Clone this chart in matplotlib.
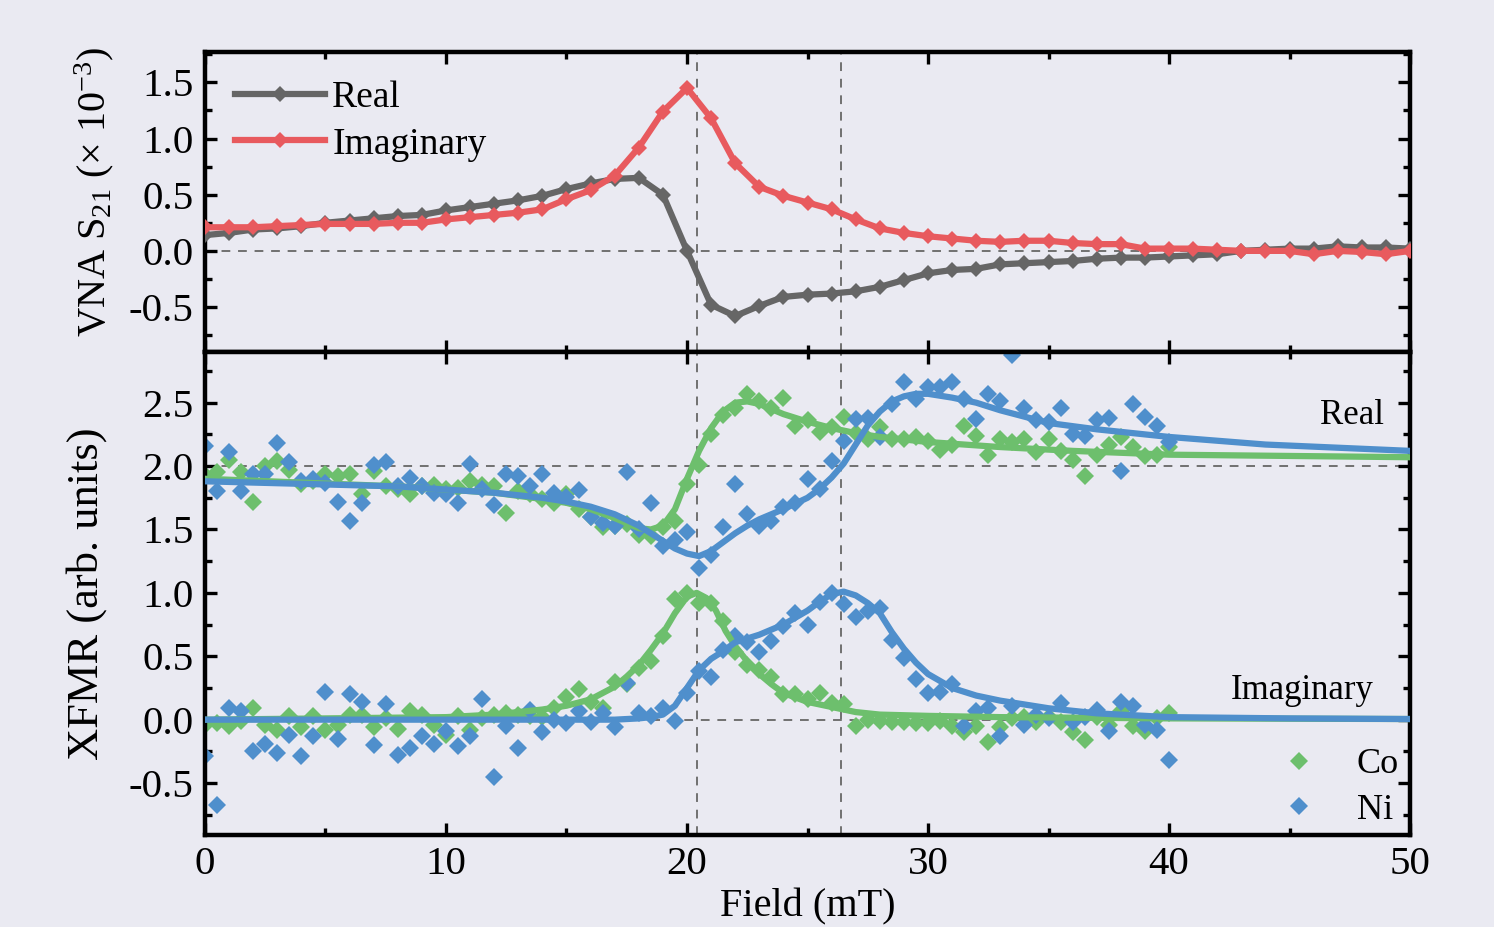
import numpy as np
import matplotlib.pyplot as plt
from matplotlib.ticker import MultipleLocator

plt.rcParams['font.family'] = ['Liberation Serif', 'DejaVu Serif']
plt.rcParams['mathtext.fontset'] = 'custom'
plt.rcParams['mathtext.rm'] = 'Liberation Serif'
plt.rcParams['mathtext.it'] = 'Liberation Serif:italic'

# ---- VNA data (top panel), one point per mT ----
vna_field = np.arange(0, 51)
vna_real = [0.14, 0.16, 0.19, 0.20, 0.22, 0.25, 0.27, 0.29, 0.31, 0.32,
            0.36, 0.39, 0.42, 0.45, 0.49, 0.55, 0.60, 0.64, 0.65, 0.50,
            0.00, -0.48, -0.58, -0.49, -0.41, -0.39, -0.38, -0.36, -0.32, -0.26,
            -0.20, -0.17, -0.16, -0.12, -0.11, -0.10, -0.09, -0.07, -0.06, -0.06,
            -0.05, -0.04, -0.03, 0.00, 0.01, 0.02, 0.02, 0.04, 0.03, 0.03, 0.02]
vna_imag = [0.21, 0.21, 0.21, 0.22, 0.23, 0.24, 0.24, 0.24, 0.25, 0.25,
            0.28, 0.30, 0.32, 0.34, 0.37, 0.46, 0.54, 0.67, 0.92, 1.24,
            1.45, 1.18, 0.78, 0.57, 0.49, 0.43, 0.37, 0.28, 0.20, 0.16,
            0.13, 0.11, 0.09, 0.08, 0.09, 0.09, 0.07, 0.06, 0.06, 0.02,
            0.02, 0.02, 0.01, 0.00, 0.00, 0.00, -0.03, 0.00, -0.01, -0.03, 0.00]

# ---- XFMR data (bottom panel), every 0.5 mT from 0 to 40 ----
xfmr_field = np.arange(0, 40.5, 0.5)
co_real = [1.93, 1.95, 2.05, 1.95, 1.72, 2.00, 2.04, 1.97, 1.86, 1.88,
           1.94, 1.92, 1.94, 1.78, 1.96, 1.84, 1.82, 1.78, 1.84, 1.85,
           1.82, 1.83, 1.88, 1.85, 1.84, 1.63, 1.80, 1.78, 1.74, 1.71,
           1.78, 1.66, 1.60, 1.52, 1.53, 1.54, 1.46, 1.45, 1.52, 1.57,
           1.86, 2.01, 2.25, 2.40, 2.46, 2.57, 2.51, 2.46, 2.54, 2.32,
           2.36, 2.27, 2.31, 2.39, 2.26, 2.21, 2.31, 2.21, 2.21, 2.23,
           2.20, 2.13, 2.17, 2.32, 2.24, 2.09, 2.21, 2.19, 2.21, 2.11,
           2.21, 2.12, 2.05, 1.92, 2.09, 2.17, 2.23, 2.15, 2.08, 2.09, 2.15]
ni_real = [2.16, 1.80, 2.11, 1.80, 1.94, 1.94, 2.18, 2.03, 1.88, 1.90,
           1.87, 1.72, 1.57, 1.71, 2.01, 2.03, 1.84, 1.91, 1.84, 1.79,
           1.78, 1.71, 2.02, 1.82, 1.69, 1.94, 1.92, 1.84, 1.94, 1.79,
           1.76, 1.81, 1.60, 1.55, 1.53, 1.95, 1.50, 1.71, 1.37, 1.42,
           1.48, 1.20, 1.30, 1.52, 1.86, 1.62, 1.53, 1.57, 1.68, 1.71,
           1.90, 1.82, 2.04, 2.20, 2.37, 2.38, 2.23, 2.49, 2.66, 2.53,
           2.62, 2.62, 2.66, 2.53, 2.37, 2.57, 2.51, 2.88, 2.46, 2.36,
           2.35, 2.46, 2.25, 2.24, 2.36, 2.38, 1.96, 2.49, 2.39, 2.32, 2.19]
co_imag = [-0.04, -0.03, -0.05, -0.01, 0.09, -0.04, -0.08, 0.03, -0.06, 0.03,
           -0.08, -0.04, 0.04, 0.04, -0.06, 0.01, -0.07, 0.07, 0.04, -0.04,
           -0.12, 0.03, -0.08, 0.01, 0.04, 0.05, 0.04, 0.03, 0.02, 0.09,
           0.18, 0.24, 0.14, 0.09, 0.30, 0.28, 0.41, 0.46, 0.66, 0.95,
           1.00, 0.92, 0.92, 0.78, 0.53, 0.43, 0.39, 0.34, 0.20, 0.20,
           0.16, 0.21, 0.13, 0.12, -0.05, 0.00, -0.01, -0.02, -0.02, -0.03,
           -0.03, -0.01, -0.05, -0.10, -0.05, -0.18, -0.06, 0.01, 0.02, -0.02,
           0.02, -0.02, -0.10, -0.16, 0.02, -0.04, 0.07, -0.05, -0.09, 0.01, 0.05]
ni_imag = [-0.29, -0.67, 0.09, 0.07, -0.25, -0.19, -0.26, -0.12, -0.29, -0.13,
           0.22, -0.15, 0.20, 0.14, -0.20, 0.12, -0.28, -0.22, -0.13, -0.19,
           -0.09, -0.21, -0.13, 0.16, -0.45, -0.05, -0.22, 0.08, -0.10, 0.00,
           -0.03, 0.07, -0.02, 0.05, -0.06, 0.29, 0.05, 0.03, 0.09, -0.01,
           0.21, 0.38, 0.34, 0.55, 0.66, 0.61, 0.53, 0.62, 0.74, 0.84,
           0.75, 0.93, 1.00, 0.91, 0.81, 0.86, 0.88, 0.63, 0.49, 0.32,
           0.21, 0.22, 0.28, -0.05, 0.07, 0.09, -0.13, 0.11, -0.04, 0.04,
           0.01, 0.13, -0.02, 0.02, 0.08, -0.09, 0.14, 0.11, -0.04, -0.08, -0.32]

# ---- fitted curves ----
co_re_fit_x = [0, 4, 8, 12, 14, 15, 16, 17, 17.5, 18, 18.5, 19, 19.5, 20, 20.5, 21,
               21.5, 22, 22.5, 23, 23.5, 24, 25, 26, 27, 28, 30, 33, 36, 40, 45, 50]
co_re_fit = [1.90, 1.87, 1.84, 1.79, 1.74, 1.71, 1.66, 1.59, 1.55, 1.51, 1.50, 1.53,
             1.66, 1.90, 2.12, 2.30, 2.43, 2.50, 2.51, 2.49, 2.45, 2.41, 2.35, 2.30,
             2.26, 2.23, 2.19, 2.15, 2.12, 2.09, 2.08, 2.07]
ni_re_fit_x = [0, 4, 8, 12, 14, 15, 16, 17, 18, 18.5, 19, 19.5, 20, 20.5, 21, 21.5,
               22, 22.5, 23, 24, 25, 25.5, 26, 26.5, 27, 27.5, 28, 28.5, 29, 29.5,
               30, 31, 32, 33, 35, 37, 40, 44, 50]
ni_re_fit = [1.88, 1.86, 1.84, 1.79, 1.75, 1.72, 1.68, 1.62, 1.53, 1.47, 1.41, 1.35,
             1.31, 1.29, 1.33, 1.40, 1.47, 1.53, 1.58, 1.66, 1.75, 1.82, 1.91, 2.02,
             2.17, 2.32, 2.43, 2.51, 2.55, 2.57, 2.57, 2.54, 2.50, 2.44, 2.34, 2.29,
             2.23, 2.17, 2.12]
co_im_fit_x = [0, 5, 10, 12, 14, 15, 16, 17, 17.5, 18, 18.5, 19, 19.5, 20, 20.4, 20.8,
               21.2, 21.6, 22, 22.5, 23, 23.5, 24, 25, 26, 27, 28, 30, 33, 40, 50]
co_im_fit = [0.0, 0.01, 0.02, 0.04, 0.08, 0.11, 0.16, 0.26, 0.34, 0.43, 0.55, 0.68,
             0.84, 0.97, 1.00, 0.96, 0.86, 0.70, 0.58, 0.46, 0.36, 0.28, 0.21, 0.14,
             0.10, 0.06, 0.04, 0.03, 0.02, 0.01, 0.005]
ni_im_fit_x = [0, 10, 17, 18, 18.5, 19, 19.5, 20, 20.5, 21, 21.5, 22, 23, 24, 25, 25.5,
               26, 26.5, 27, 27.5, 28, 28.5, 29, 29.5, 30, 31, 32, 33, 35, 37, 40, 45, 50]
ni_im_fit = [0.0, 0.0, 0.0, 0.01, 0.02, 0.04, 0.11, 0.25, 0.39, 0.48, 0.54, 0.61,
             0.67, 0.75, 0.86, 0.93, 0.99, 1.01, 0.98, 0.92, 0.84, 0.69, 0.56, 0.45,
             0.36, 0.25, 0.19, 0.15, 0.09, 0.05, 0.02, 0.01, 0.005]

resonances = [20.4, 26.4]

bg = '#eaeaf2'
gray = '#666666'
red = '#e85a5e'
green = '#6dbf6d'
blue = '#4f8fcc'
dash = '#707070'

fig = plt.figure(figsize=(14.94, 9.27), dpi=100, facecolor=bg)
ax1 = fig.add_axes([0.1372, 0.6203, 0.8066, 0.3236], facecolor=bg)
ax2 = fig.add_axes([0.1372, 0.0992, 0.8066, 0.5211], facecolor=bg, sharex=ax1)

# top panel
ax1.axhline(0, color=dash, lw=1.4, ls=(0, (4.5, 4)), zorder=1)
ax1.plot(vna_field, vna_real, color=gray, lw=4.5, marker='D', ms=8.5, mew=0, label='Real', zorder=3)
ax1.plot(vna_field, vna_imag, color=red, lw=4.5, marker='D', ms=8.5, mew=0, label='Imaginary', zorder=4)
ax1.set_ylim(-0.9, 1.77)
ax1.set_ylabel(r'VNA S$_{21}$ ($\times$ 10$^{-3}$)', fontsize=29)
ax1.legend(loc='upper left', bbox_to_anchor=(0.025, 0.905), frameon=False, fontsize=27,
           handlelength=2.4, handletextpad=0.19, borderpad=0, borderaxespad=0, labelspacing=0.32)

# bottom panel
ax2.axhline(2.0, color=dash, lw=1.4, ls=(0, (4.5, 4)), zorder=1)
ax2.axhline(0.0, color=dash, lw=1.4, ls=(0, (4.5, 4)), zorder=1)
ax2.plot(xfmr_field, co_real, 'D', color=green, ms=9.5, mew=0, label='Co', zorder=2)
ax2.plot(xfmr_field, co_imag, 'D', color=green, ms=9.5, mew=0, zorder=2)
ax2.plot(xfmr_field, ni_real, 'D', color=blue, ms=9.5, mew=0, label='Ni', zorder=2)
ax2.plot(xfmr_field, ni_imag, 'D', color=blue, ms=9.5, mew=0, zorder=2)
ax2.plot(co_re_fit_x, co_re_fit, color=green, lw=4.5, zorder=3)
ax2.plot(co_im_fit_x, co_im_fit, color=green, lw=4.5, zorder=3)
ax2.plot(ni_re_fit_x, ni_re_fit, color=blue, lw=4.5, zorder=4)
ax2.plot(ni_im_fit_x, ni_im_fit, color=blue, lw=4.5, zorder=4)
ax2.set_ylim(-0.91, 2.9)
ax2.set_ylabel('XFMR (arb. units)', fontsize=32)
ax2.set_xlabel('Field (mT)', fontsize=29, labelpad=4)
ax2.text(48.9, 2.40, 'Real', fontsize=25, ha='right', va='center')
ax2.text(48.5, 0.23, 'Imaginary', fontsize=25, ha='right', va='center')
ax2.legend(loc='upper left', bbox_to_anchor=(0.893, 0.18), frameon=False, fontsize=26,
           handlelength=1.0, handletextpad=1.1, borderpad=0, borderaxespad=0, labelspacing=0.34)

for ax in (ax1, ax2):
    for x0 in resonances:
        ax.axvline(x0, color=dash, lw=1.4, ls=(0, (4.5, 4)), zorder=1)
    ax.set_xlim(0, 50)
    ax.xaxis.set_major_locator(MultipleLocator(10))
    ax.xaxis.set_minor_locator(MultipleLocator(5))
    ax.yaxis.set_major_locator(MultipleLocator(0.5))
    ax.yaxis.set_minor_locator(MultipleLocator(0.25))
    ax.tick_params(which='both', direction='in', top=True, right=True, width=2.4,
                   labelsize=29.5, pad=8)
    ax.tick_params(which='major', length=8.6)
    ax.tick_params(which='minor', length=5)
    for s in ax.spines.values():
        s.set_linewidth(3.2)
    ax.yaxis.set_major_formatter(plt.FuncFormatter(lambda v, p: '%.1f' % v))

ax1.tick_params(labelbottom=False)
ax1.yaxis.set_label_coords(-0.074, 0.533)
ax2.yaxis.set_label_coords(-0.081, 0.5)

fig.savefig('out.png', dpi=100, facecolor=bg)
